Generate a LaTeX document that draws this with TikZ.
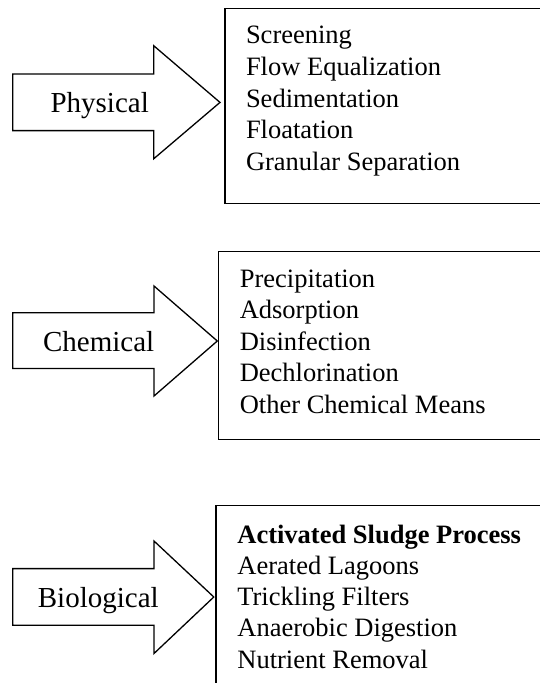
\documentclass[tikz,border=0pt]{standalone}
\usepackage{fontspec}
\setmainfont{Liberation Serif}
\begin{document}
\begin{tikzpicture}[x=1pt,y=-1pt,
  shapeline/.style={draw=black,line width=1.3pt,fill=white,line join=miter},
  label/.style={font=\fontsize{29}{33}\selectfont,inner sep=0pt,anchor=base},
  item/.style={font=\fontsize{26.5}{31.7}\selectfont,inner sep=0pt,anchor=base west}]
\useasboundingbox (0,0) rectangle (539,683);
% boxes
\draw[shapeline] (225,8.6) rectangle (560,203.5);
\draw[shapeline] (218.3,251.6) rectangle (560,439.3);
\draw[shapeline] (216,505.7) rectangle (560,700);
% arrows
\draw[shapeline] (12.7,74) -- (153.7,74) -- (153.7,45.7) -- (220,102.4) -- (153.7,158.8) -- (153.7,130.6) -- (12.7,130.6) -- cycle;
\draw[shapeline] (12.7,312.8) -- (154,312.8) -- (154,286) -- (217.3,341) -- (154,396) -- (154,368.5) -- (12.7,368.5) -- cycle;
\draw[shapeline] (12.7,568.6) -- (154,568.6) -- (154,541) -- (213.8,597) -- (154,653.5) -- (154,625.3) -- (12.7,625.3) -- cycle;
% labels
\node[label] (phys) at (99.7,112.7) {Physical};
\node[label] (chem) at (98.7,351.7) {Chemical};
\node[label] (bio) at (98.3,607.4) {Biological};
% lists
\node[item] (p1) at (245.8,43) {Screening};
\node[item] (p2) at (245.8,75) {Flow Equalization};
\node[item] (p3) at (245.8,107) {Sedimentation};
\node[item] (p4) at (245.8,138.7) {Floatation};
\node[item] (p5) at (245.8,170.8) {Granular Separation};
\node[item] (c1) at (239.6,287) {Precipitation};
\node[item] (c2) at (239.6,318.7) {Adsorption};
\node[item] (c3) at (239.6,350.2) {Disinfection};
\node[item] (c4) at (239.6,381.6) {Dechlorination};
\node[item] (c5) at (239.6,413.2) {Other Chemical Means};
\node[item,font=\fontsize{26.5}{31.7}\selectfont\bfseries] (b1) at (237.2,543.5) {Activated Sludge Process};
\node[item] (b2) at (237.2,574) {Aerated Lagoons};
\node[item] (b3) at (237.2,605.4) {Trickling Filters};
\node[item] (b4) at (237.2,636.7) {Anaerobic Digestion};
\node[item] (b5) at (237.2,668.3) {Nutrient Removal};
\end{tikzpicture}
\end{document}
